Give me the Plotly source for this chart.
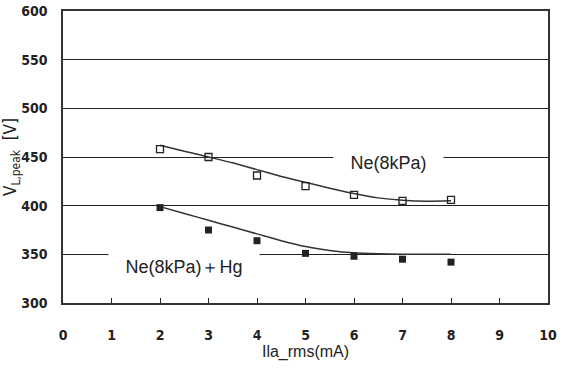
import plotly.graph_objects as go

x_vals = [2, 3, 4, 5, 6, 7, 8]
ne_vals = [458, 450, 431, 420, 411, 405, 406]
hg_vals = [398, 375, 364, 351, 348, 345, 342]
trend_x = [2, 2.5, 3, 3.5, 4, 4.5, 5, 5.5, 6, 6.5, 7, 7.5, 8]
ne_trend = [462, 456, 450, 444, 437, 430, 424, 418, 412.5, 408, 405.5, 404.5, 405]
hg_trend = [399, 392, 385, 378, 371, 364, 358, 354, 351.5, 350.5, 350, 350, 350]
x_ticks = [0, 1, 2, 3, 4, 5, 6, 7, 8, 9, 10]
y_ticks = [300, 350, 400, 450, 500, 550, 600]

NARROW = "Liberation Sans Narrow, Arial Narrow, DejaVu Sans Condensed, sans-serif"
SANS = "Liberation Sans, Arial, sans-serif"

fig = go.Figure()
fig.add_trace(go.Scatter(x=trend_x, y=ne_trend, mode="lines",
                         line=dict(color="#333", width=1.5, shape="spline", smoothing=0.5), showlegend=False))
fig.add_trace(go.Scatter(x=trend_x, y=hg_trend, mode="lines",
                         line=dict(color="#333", width=1.5, shape="spline", smoothing=0.5), showlegend=False))
fig.add_trace(go.Scatter(x=x_vals, y=ne_vals, mode="markers",
                         marker=dict(symbol="square-open", size=7, color="#222", line=dict(width=1.3)), showlegend=False))
fig.add_trace(go.Scatter(x=x_vals, y=hg_vals, mode="markers",
                         marker=dict(symbol="square", size=7, color="#222"), showlegend=False))

fig.add_annotation(x=6.72, y=443.5, xref="x", yref="y", text="Ne(8kPa)", showarrow=False,
                   xanchor="center", yanchor="middle", bgcolor="white", width=107, height=24,
                   font=dict(family=SANS, size=18, color="#222"))
fig.add_annotation(x=2.49, y=337, xref="x", yref="y", text="Ne(8kPa)＋Hg", showarrow=False,
                   xanchor="center", yanchor="middle", bgcolor="white", width=148, height=28,
                   font=dict(family=SANS, size=18, color="#222"))

fig.update_layout(
    width=566, height=373,
    margin=dict(l=63, r=18, t=11, b=70),
    plot_bgcolor="white", paper_bgcolor="white",
    font=dict(family=NARROW, size=15, color="#222"),
)
fig.update_xaxes(range=[0, 10], tickvals=x_ticks, ticks="inside", ticklen=5, tickcolor="#222",
                 tickfont=dict(family=NARROW, size=14, weight="bold"), ticklabelstandoff=18,
                 showgrid=False, showline=True, linecolor="#333", linewidth=1.5, mirror=True, automargin=False,
                 zeroline=False, title=dict(text="Ila_rms(mA)", font=dict(family=SANS, size=16), standoff=4))
fig.update_yaxes(range=[300, 600], tickvals=y_ticks, ticks="", showgrid=True, gridcolor="#222", gridwidth=1.2,
                 tickfont=dict(family=NARROW, size=14, weight="bold"), ticklabelstandoff=11,
                 showline=True, linecolor="#333", linewidth=1.5, mirror=True, zeroline=False, automargin=False,
                 title=dict(text="V<sub>L,peak</sub>  [V]", font=dict(family=NARROW, size=17), standoff=0))

fig.write_html("out.html")
